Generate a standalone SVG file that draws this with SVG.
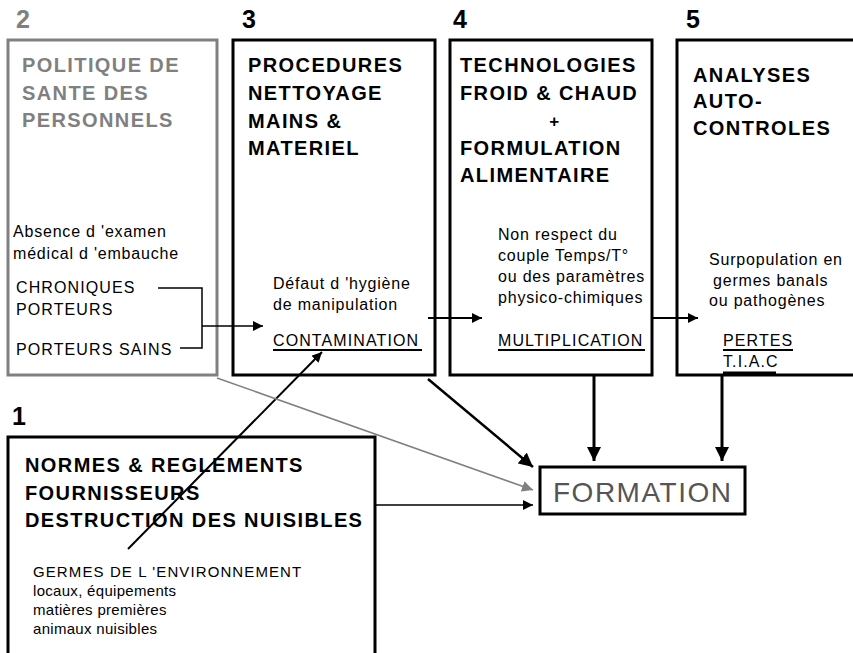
<svg xmlns="http://www.w3.org/2000/svg" width="853" height="653" viewBox="0 0 853 653">
  <style>
    .box { fill: #fff; stroke: #000; stroke-width: 3; }
    .gbox { fill: #fff; stroke: #808080; stroke-width: 3; }
    .num { font-family: "Liberation Sans", Arial, sans-serif; font-size: 25px; font-weight: bold; fill: #000; }
    .title { font-family: "Liberation Sans", Arial, sans-serif; font-size: 20px; font-weight: bold; letter-spacing: 1.4px; fill: #000; }
    .gray { fill: #808080; }
    .small { font-family: "Liberation Sans", Arial, sans-serif; font-size: 16px; letter-spacing: 0.8px; fill: #000; }
    .caps { font-family: "Liberation Sans", Arial, sans-serif; font-size: 16px; letter-spacing: 1.1px; fill: #000; }
    .env { font-family: "Liberation Sans", Arial, sans-serif; font-size: 15px; letter-spacing: 1.1px; fill: #000; }
    .ul { stroke: #000; stroke-width: 2; }
    .link { fill: none; stroke: #000; }
    .link.faint { stroke: #808080; }
  </style>
  <defs>
    <marker id="ah" viewBox="0 0 10 10" refX="10" refY="5" markerWidth="10" markerHeight="10" markerUnits="userSpaceOnUse" orient="auto">
      <path d="M0,0 L10,5 L0,10 Z" fill="#000"/>
    </marker>
    <marker id="ahBig" viewBox="0 0 10 10" refX="10" refY="5" markerWidth="14" markerHeight="14" markerUnits="userSpaceOnUse" orient="auto">
      <path d="M0,0 L10,5 L0,10 Z" fill="#000"/>
    </marker>
    <marker id="ahGray" viewBox="0 0 10 10" refX="10" refY="5" markerWidth="11" markerHeight="11" markerUnits="userSpaceOnUse" orient="auto">
      <path d="M0,0 L10,5 L0,10 Z" fill="#808080"/>
    </marker>
  </defs>

  <rect width="853" height="653" fill="#fff"/>

  <!-- 2: staff health policy -->
  <g id="node-sante">
    <text class="num gray" x="16" y="28">2</text>
    <rect class="gbox" x="8" y="40" width="209" height="335"/>
    <text class="title gray" x="22" y="72">POLITIQUE DE</text>
    <text class="title gray" x="22" y="100">SANTE DES</text>
    <text class="title gray" x="22" y="127">PERSONNELS</text>
    <text class="small" x="13" y="237">Absence d 'examen</text>
    <text class="small" x="13" y="259">médical d 'embauche</text>
    <text class="caps" x="16" y="293">CHRONIQUES</text>
    <text class="caps" x="16" y="315">PORTEURS</text>
    <text class="caps" x="16" y="355">PORTEURS SAINS</text>
  </g>

  <!-- 3: cleaning procedures -->
  <g id="node-procedures">
    <text class="num" x="242" y="28">3</text>
    <rect class="box" x="233" y="40" width="202" height="335"/>
    <text class="title" x="248" y="72">PROCEDURES</text>
    <text class="title" x="248" y="100">NETTOYAGE</text>
    <text class="title" x="248" y="128">MAINS &amp;</text>
    <text class="title" x="248" y="155">MATERIEL</text>
    <text class="small" x="273" y="289">Défaut d 'hygiène</text>
    <text class="small" x="273" y="310">de manipulation</text>
    <text class="caps" x="273" y="346">CONTAMINATION</text>
    <line class="ul" x1="273" y1="350" x2="422" y2="350"/>
  </g>

  <!-- 4: hot/cold technologies -->
  <g id="node-technologies">
    <text class="num" x="453" y="28">4</text>
    <rect class="box" x="450" y="40" width="202" height="335"/>
    <text class="title" x="460" y="72">TECHNOLOGIES</text>
    <text class="title" x="460" y="100">FROID &amp; CHAUD</text>
    <text class="title" x="555" y="127" text-anchor="middle" style="font-size:17px">+</text>
    <text class="title" x="460" y="155">FORMULATION</text>
    <text class="title" x="460" y="182">ALIMENTAIRE</text>
    <text class="small" x="498" y="240">Non respect du</text>
    <text class="small" x="498" y="261">couple  Temps/T°</text>
    <text class="small" x="498" y="282">ou des paramètres</text>
    <text class="small" x="498" y="303">physico-chimiques</text>
    <text class="caps" x="498" y="346">MULTIPLICATION</text>
    <line class="ul" x1="498" y1="350" x2="645" y2="350"/>
  </g>

  <!-- 5: analyses / self-checks -->
  <g id="node-analyses">
    <text class="num" x="686" y="28">5</text>
    <rect class="box" x="677" y="40" width="200" height="335"/>
    <text class="title" x="693" y="82">ANALYSES</text>
    <text class="title" x="693" y="108">AUTO-</text>
    <text class="title" x="693" y="135">CONTROLES</text>
    <text class="small" x="709" y="265">Surpopulation en</text>
    <text class="small" x="713" y="286">germes banals</text>
    <text class="small" x="709" y="306">ou pathogènes</text>
    <text class="caps" x="723" y="346">PERTES</text>
    <line class="ul" x1="723" y1="350" x2="793" y2="350"/>
    <text class="caps" x="723" y="367">T.I.A.C</text>
    <line x1="723" y1="373" x2="776" y2="373" stroke="#000" stroke-width="3"/>
  </g>

  <!-- 1: standards and regulations -->
  <g id="node-normes">
    <text class="num" x="12" y="425">1</text>
    <rect class="box" x="8" y="437" width="367" height="240"/>
    <text class="title" x="25" y="472">NORMES &amp; REGLEMENTS</text>
    <text class="title" x="25" y="500">FOURNISSEURS</text>
    <text class="title" x="25" y="527">DESTRUCTION DES NUISIBLES</text>
    <text class="env" x="33" y="577">GERMES DE L 'ENVIRONNEMENT</text>
    <text class="env" x="33" y="596" style="letter-spacing:0.3px">locaux, équipements</text>
    <text class="env" x="33" y="615" style="letter-spacing:0.3px">matières premières</text>
    <text class="env" x="33" y="634" style="letter-spacing:0.3px">animaux nuisibles</text>
  </g>

  <!-- training -->
  <g id="node-formation">
    <rect class="box" x="540" y="467" width="205" height="47"/>
    <text x="553" y="502" font-family="'Liberation Sans', Arial, sans-serif" font-size="28" letter-spacing="1.5" fill="#555">FORMATION</text>
  </g>

  <!-- connectors -->
  <g id="connectors">
    <!-- bracket from staff categories to contamination -->
    <polyline class="link" stroke-width="1.5" points="158,288 202,288 202,348 180,348"/>
    <line class="link" stroke-width="1.5" x1="202" y1="326" x2="263" y2="326" marker-end="url(#ah)"/>
    <!-- environment germs to contamination -->
    <line class="link" stroke-width="2" x1="128" y1="549" x2="322" y2="352" marker-end="url(#ah)"/>
    <!-- contamination to multiplication -->
    <line class="link" stroke-width="2" x1="428" y1="318" x2="482" y2="318" marker-end="url(#ah)"/>
    <!-- multiplication to losses -->
    <line class="link" stroke-width="2" x1="653" y1="318" x2="698" y2="318" marker-end="url(#ah)"/>
    <!-- toward training -->
    <line class="link faint" stroke-width="1.5" x1="217" y1="378" x2="533" y2="490" marker-end="url(#ahGray)"/>
    <line class="link" stroke-width="2.5" x1="428" y1="379" x2="533" y2="467" marker-end="url(#ahBig)"/>
    <line class="link" stroke-width="1.5" x1="375" y1="505" x2="533" y2="505" marker-end="url(#ah)"/>
    <line class="link" stroke-width="3" x1="594" y1="376" x2="594" y2="461" marker-end="url(#ahBig)"/>
    <line class="link" stroke-width="3" x1="722" y1="376" x2="722" y2="461" marker-end="url(#ahBig)"/>
  </g>
</svg>
